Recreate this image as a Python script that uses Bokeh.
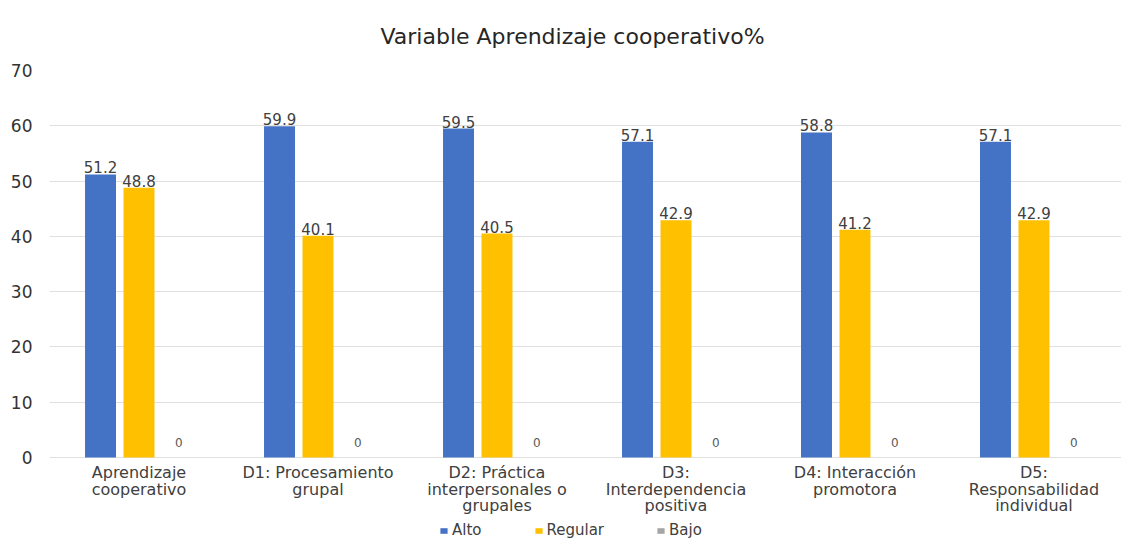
from bokeh.plotting import figure
from bokeh.models import ColumnDataSource, Legend, LegendItem, Range1d
from bokeh.core.properties import value
from bokeh.embed import file_html
from bokeh.resources import INLINE

categories = ["Aprendizaje\ncooperativo", "D1: Procesamiento\ngrupal",
              "D2: Práctica\ninterpersonales o\ngrupales", "D3:\nInterdependencia\npositiva",
              "D4: Interacción\npromotora", "D5:\nResponsabilidad\nindividual"]
alto = [51.2, 59.9, 59.5, 57.1, 58.8, 57.1]
regular = [48.8, 40.1, 40.5, 42.9, 41.2, 42.9]
bajo = [0, 0, 0, 0, 0, 0]
y_ticks = [0, 10, 20, 30, 40, 50, 60, 70]

idx = [i + 0.5 for i in range(len(categories))]
OFF = 0.215
src = ColumnDataSource(dict(
    cat=categories, xc=idx,
    xa=[x - OFF for x in idx], xr=idx, xb=[x + OFF + 0.008 for x in idx],
    alto=alto, regular=regular, bajo=bajo,
    alto_t=[f"{v:.1f}" for v in alto],
    reg_t=[f"{v:.1f}" for v in regular],
    bajo_t=[str(v) for v in bajo],
    zero=[0] * len(categories)))

FONT = "DejaVu Sans"
p = figure(x_range=Range1d(0, 5.989), y_range=Range1d(-15.2, 70),
           width=1121, height=541, output_backend="svg", toolbar_location=None,
           title="Variable Aprendizaje cooperativo%")
p.min_border_left = 49
p.min_border_right = 0
p.min_border_top = 70
p.min_border_bottom = 0

p.title.align = "left"
p.title.text_font = FONT
p.title.text_font_size = "22px"
p.title.text_font_style = "normal"
p.title.text_color = "#262626"
p.title.offset = 331
p.title.standoff = 43

w = 0.173
r1 = p.vbar(x="xa", top="alto", width=w, source=src, fill_color="#4472C4", line_color=None)
r2 = p.vbar(x="xr", top="regular", width=w, source=src, fill_color="#FFC000", line_color=None)
r3 = p.vbar(x="xb", top="bajo", width=w, source=src, fill_color="#A5A5A5", line_color=None)

common = dict(text_font=value(FONT), text_font_size="15px", text_color="#404040",
              text_align="center", text_baseline="bottom", source=src)
p.text(x="xa", y="alto", text="alto_t", y_offset=-1, **common)
p.text(x="xr", y="regular", text="reg_t", y_offset=-1, **common)
p.text(x="xb", y="bajo", text="bajo_t", y_offset=-10,
       text_font=value(FONT), text_font_size="12px", text_color="#595959",
       text_align="center", text_baseline="top" if False else "bottom", source=src)

# category labels
p.text(x="xc", y="zero", text="cat", y_offset=6, source=src,
       text_font=value(FONT), text_font_size="16px", text_color="#404040",
       text_align="center", text_baseline="top", text_line_height=0.86)

p.yaxis.ticker = y_ticks
p.yaxis.axis_line_color = None
p.yaxis.major_tick_line_color = None
p.yaxis.minor_tick_line_color = None
p.yaxis.major_label_text_font = FONT
p.yaxis.major_label_text_font_size = "17px"
p.yaxis.major_label_text_color = "#333333"
p.yaxis.major_label_standoff = 11

p.xaxis.visible = False
p.xgrid.grid_line_color = None
p.ygrid.ticker = y_ticks
p.ygrid.grid_line_color = "#e0e0e0"
p.outline_line_color = None

legend = Legend(items=[LegendItem(label="Alto", renderers=[r1]),
                       LegendItem(label="Regular", renderers=[r2]),
                       LegendItem(label="Bajo", renderers=[r3])],
                orientation="horizontal", location=(390, 2),
                label_text_font=FONT, label_text_font_size="15px", label_text_color="#404040",
                glyph_width=9, glyph_height=7, label_standoff=4, spacing=52,
                border_line_color=None, background_fill_alpha=0, padding=0, margin=0)
p.add_layout(legend, "center")

open("out.html", "w").write(file_html(p, INLINE))
